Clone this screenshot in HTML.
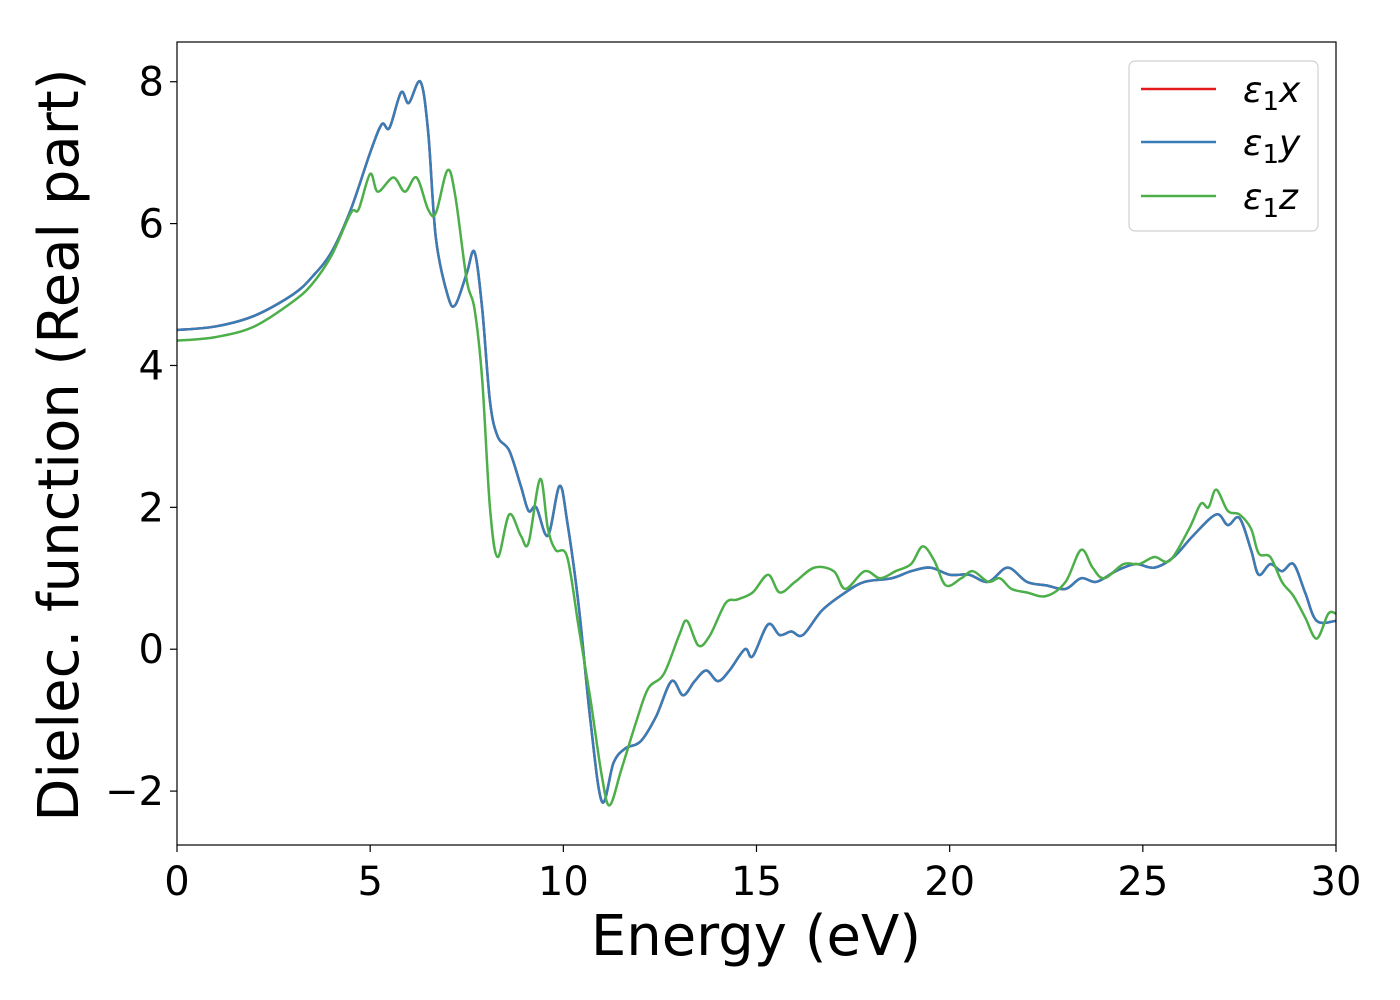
<!DOCTYPE html>
<html><head><meta charset="utf-8">
<style>
html,body{margin:0;padding:0;background:#fff;}
svg{display:block;font-family:"DejaVu Sans","Liberation Sans",sans-serif;}
</style></head>
<body>
<svg id="chart" width="1400" height="1000" viewBox="0 0 1400 1000" xmlns="http://www.w3.org/2000/svg">
<rect x="0" y="0" width="1400" height="1000" fill="#fff"/>
<g id="series"></g>
<rect x="177" y="42" width="1159" height="803" fill="none" stroke="#000" stroke-width="1.2"/>
<g id="xticks"></g>
<g id="yticks"></g>
<text x="756" y="955" font-size="56" text-anchor="middle">Energy (eV)</text>
<text transform="translate(78,445) rotate(-90)" font-size="56" text-anchor="middle">Dielec. function (Real part)</text>
<g>
<rect x="1129" y="61" width="189" height="170" rx="6" fill="#fff" fill-opacity="0.8" stroke="#d0d0d0" stroke-width="1.2"/>
<line x1="1141" y1="89" x2="1216" y2="89" stroke="#e41a1c" stroke-width="2.5"/>
<line x1="1141" y1="142" x2="1216" y2="142" stroke="#377eb8" stroke-width="2.5"/>
<line x1="1141" y1="196" x2="1216" y2="196" stroke="#4daf4a" stroke-width="2.5"/>
<text x="1243" y="102" font-size="36" font-style="italic">ε<tspan font-style="normal" font-size="26" dy="8">1</tspan><tspan dy="-8">x</tspan></text>
<text x="1243" y="155" font-size="36" font-style="italic">ε<tspan font-style="normal" font-size="26" dy="8">1</tspan><tspan dy="-8">y</tspan></text>
<text x="1243" y="209" font-size="36" font-style="italic">ε<tspan font-style="normal" font-size="26" dy="8">1</tspan><tspan dy="-8">z</tspan></text>
</g>
</svg>
<script>
const xTickLabels = [0,5,10,15,20,25,30];
const yTickLabels = [-2,0,2,4,6,8];
const energyXY = [0,1,2,3,3.5,4,4.5,5,5.3,5.5,5.8,6.0,6.3,6.5,6.7,7.0,7.2,7.5,7.7,7.9,8.1,8.3,8.6,8.9,9.1,9.3,9.6,9.9,10.1,10.4,10.7,11.0,11.3,11.6,12.0,12.4,12.8,13.1,13.4,13.7,14.0,14.3,14.7,14.9,15.3,15.6,15.9,16.2,16.7,17.3,17.8,18.5,19.0,19.5,20.0,20.5,21.0,21.5,22.0,22.5,23.0,23.4,23.8,24.3,24.8,25.3,25.8,26.3,26.9,27.2,27.5,27.8,28.0,28.3,28.6,28.9,29.2,29.5,30];
const eps1x = [4.5,4.55,4.7,5.0,5.25,5.6,6.2,7.0,7.4,7.35,7.85,7.7,8.0,7.3,5.8,5.0,4.85,5.3,5.6,4.8,3.5,3.0,2.8,2.3,1.95,2.0,1.6,2.3,1.8,0.6,-1.0,-2.15,-1.6,-1.4,-1.3,-0.95,-0.45,-0.65,-0.45,-0.3,-0.45,-0.3,0.0,-0.1,0.35,0.2,0.25,0.2,0.55,0.8,0.95,1.0,1.1,1.15,1.05,1.05,0.95,1.15,0.95,0.9,0.85,1.0,0.95,1.1,1.2,1.15,1.3,1.6,1.9,1.75,1.85,1.4,1.05,1.2,1.1,1.2,0.8,0.4,0.4];
const eps1y = [4.5,4.55,4.7,5.0,5.25,5.6,6.2,7.0,7.4,7.35,7.85,7.7,8.0,7.3,5.8,5.0,4.85,5.3,5.6,4.8,3.5,3.0,2.8,2.3,1.95,2.0,1.6,2.3,1.8,0.6,-1.0,-2.15,-1.6,-1.4,-1.3,-0.95,-0.45,-0.65,-0.45,-0.3,-0.45,-0.3,0.0,-0.1,0.35,0.2,0.25,0.2,0.55,0.8,0.95,1.0,1.1,1.15,1.05,1.05,0.95,1.15,0.95,0.9,0.85,1.0,0.95,1.1,1.2,1.15,1.3,1.6,1.9,1.75,1.85,1.4,1.05,1.2,1.1,1.2,0.8,0.4,0.4];
const energyZ = [0,1,2,3,3.5,4,4.5,4.7,5.0,5.2,5.6,5.9,6.2,6.5,6.7,7.0,7.2,7.5,7.7,7.9,8.1,8.3,8.6,8.9,9.1,9.4,9.6,9.8,10.1,10.4,10.7,11.0,11.2,11.5,11.9,12.2,12.6,13.0,13.2,13.5,13.8,14.2,14.5,14.9,15.3,15.6,16.0,16.5,17.0,17.3,17.8,18.2,18.6,19.0,19.3,19.6,19.9,20.3,20.6,21.0,21.3,21.6,22.0,22.5,23.0,23.4,23.7,24.0,24.5,24.9,25.3,25.7,26.2,26.5,26.7,26.9,27.2,27.5,27.8,28.0,28.3,28.6,28.9,29.2,29.5,29.8,30];
const eps1z = [4.35,4.4,4.55,4.9,5.15,5.55,6.15,6.2,6.7,6.45,6.65,6.45,6.65,6.2,6.15,6.75,6.4,5.2,4.8,3.8,2.0,1.3,1.9,1.6,1.5,2.4,1.7,1.4,1.3,0.3,-0.7,-1.8,-2.2,-1.7,-1.0,-0.55,-0.35,0.2,0.4,0.05,0.2,0.65,0.7,0.8,1.05,0.8,0.95,1.15,1.1,0.85,1.1,1.0,1.1,1.2,1.45,1.25,0.9,1.0,1.1,0.95,1.0,0.85,0.8,0.75,0.95,1.4,1.15,1.0,1.2,1.2,1.3,1.25,1.7,2.05,2.0,2.25,1.95,1.9,1.7,1.35,1.3,0.95,0.75,0.45,0.15,0.5,0.5];

const NS = "http://www.w3.org/2000/svg";
const X0=177, X1=1336, Y0=845, Y1=42, XMIN=0, XMAX=30, YMIN=-2.76, YMAX=8.56;
function sx(v){return X0+(v-XMIN)/(XMAX-XMIN)*(X1-X0);}
function sy(v){return Y0-(v-YMIN)/(YMAX-YMIN)*(Y0-Y1);}
function pathFor(xs, ys){
  const p = xs.map((x,i)=>[sx(x),sy(ys[i])]);
  let d = "M"+p[0][0].toFixed(2)+","+p[0][1].toFixed(2);
  for(let i=0;i<p.length-1;i++){
    const a=p[Math.max(0,i-1)], b=p[i], c=p[i+1], e=p[Math.min(p.length-1,i+2)];
    const c1=[b[0]+(c[0]-a[0])/6, b[1]+(c[1]-a[1])/6];
    const c2=[c[0]-(e[0]-b[0])/6, c[1]-(e[1]-b[1])/6];
    d+=" C"+c1[0].toFixed(2)+","+c1[1].toFixed(2)+" "+c2[0].toFixed(2)+","+c2[1].toFixed(2)+" "+c[0].toFixed(2)+","+c[1].toFixed(2);
  }
  return d;
}
const sg = document.getElementById("series");
function addLine(xs, ys, color, name){
  const el = document.createElementNS(NS,"path");
  el.setAttribute("d", pathFor(xs, ys));
  el.setAttribute("fill","none");
  el.setAttribute("stroke",color);
  el.setAttribute("stroke-width","2.5");
  el.setAttribute("clip-path","url(#clip)");
  
  
  sg.appendChild(el);
}
const defs = document.createElementNS(NS,"defs");
defs.innerHTML = '<clipPath id="clip"><rect x="177" y="42" width="1159" height="803"/></clipPath>';
document.getElementById("chart").insertBefore(defs, sg);
addLine(energyXY, eps1x, "#e41a1c", "series-eps1x");
addLine(energyXY, eps1y, "#377eb8", "series-eps1y");
addLine(energyZ, eps1z, "#4daf4a", "series-eps1z");

const xg = document.getElementById("xticks");
xTickLabels.forEach(v=>{
  const t = document.createElementNS(NS,"line");
  t.setAttribute("x1",sx(v)); t.setAttribute("x2",sx(v));
  t.setAttribute("y1",Y0); t.setAttribute("y2",Y0+7);
  t.setAttribute("stroke","#000"); t.setAttribute("stroke-width","1.2");
  
  
  xg.appendChild(t);
  const l = document.createElementNS(NS,"text");
  l.setAttribute("x",sx(v)); l.setAttribute("y",Y0+50);
  l.setAttribute("font-size","40"); l.setAttribute("text-anchor","middle");
  l.textContent = String(v);
  
  
  xg.appendChild(l);
});
const yg = document.getElementById("yticks");
yTickLabels.forEach(v=>{
  const t = document.createElementNS(NS,"line");
  t.setAttribute("x1",X0-7); t.setAttribute("x2",X0);
  t.setAttribute("y1",sy(v)); t.setAttribute("y2",sy(v));
  t.setAttribute("stroke","#000"); t.setAttribute("stroke-width","1.2");
  
  
  yg.appendChild(t);
  const l = document.createElementNS(NS,"text");
  l.setAttribute("x",X0-13); l.setAttribute("y",sy(v)+14);
  l.setAttribute("font-size","40"); l.setAttribute("text-anchor","end");
  l.textContent = v<0 ? "\u2212"+Math.abs(v) : String(v);
  
  
  yg.appendChild(l);
});
</script>
</body></html>
